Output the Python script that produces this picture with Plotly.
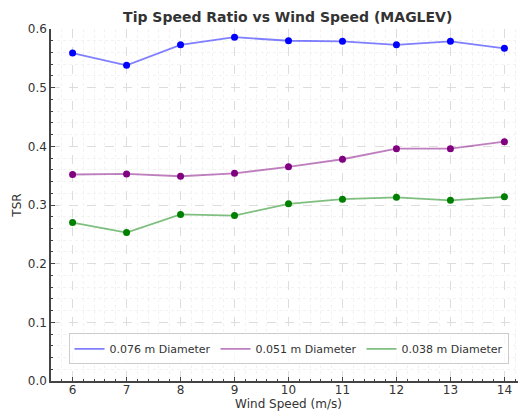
import plotly.graph_objects as go

wind_speed = [6, 7, 8, 9, 10, 11, 12, 13, 14]
tsr_076 = [0.559, 0.538, 0.573, 0.586, 0.580, 0.579, 0.573, 0.579, 0.567]
tsr_051 = [0.352, 0.353, 0.349, 0.354, 0.365, 0.378, 0.396, 0.396, 0.408]
tsr_038 = [0.270, 0.253, 0.284, 0.282, 0.302, 0.310, 0.313, 0.308, 0.314]

series = [
    ("0.076 m Diameter", tsr_076, "rgba(0,0,255,0.5)", "#0000ff"),
    ("0.051 m Diameter", tsr_051, "rgba(128,0,128,0.5)", "#800080"),
    ("0.038 m Diameter", tsr_038, "rgba(0,128,0,0.5)", "#008000"),
]

fig = go.Figure()
for name, vals, lc, mc in series:
    fig.add_trace(go.Scatter(x=wind_speed, y=vals, mode="lines", name=name,
                             line=dict(color=lc, width=1.8)))
for name, vals, lc, mc in series:
    fig.add_trace(go.Scatter(x=wind_speed, y=vals, mode="markers", showlegend=False,
                             marker=dict(color=mc, size=7)))

axis_common = dict(
    showline=True, linecolor="#444", linewidth=1.5,
    ticks="inside", ticklen=4, tickcolor="#444",
    showgrid=True, gridcolor="#dddddd", griddash="dash", gridwidth=1,
    zeroline=False, mirror=False, automargin=False,
    tickfont=dict(size=12, color="#333"),
)

fig.update_xaxes(range=[5.6, 14.4], dtick=1, tick0=6, ticklabelstandoff=-3,
                 title=dict(text="Wind Speed (m/s)", font=dict(size=12, color="#333"), standoff=0),
                 minor=dict(dtick=0.2, ticks="inside", ticklen=2, tickcolor="#444",
                            showgrid=True, gridcolor="#f2f2f2", griddash="dot"),
                 **axis_common)
fig.update_yaxes(range=[0, 0.6], dtick=0.1, tickformat=".1f",
                 title=dict(text="TSR", font=dict(size=12, color="#333"), standoff=4),
                 minor=dict(dtick=0.02, ticks="inside", ticklen=2, tickcolor="#444",
                            showgrid=True, gridcolor="#f2f2f2", griddash="dot"),
                 **axis_common)

fig.update_layout(
    width=518, height=404,
    margin=dict(l=43, r=0, t=21, b=31, autoexpand=False),
    paper_bgcolor="white", plot_bgcolor="white",
    font=dict(family="DejaVu Sans", color="#333"),
    title=dict(text="<b>Tip Speed Ratio vs Wind Speed (MAGLEV)</b>", x=0.54, xanchor="center",
               y=0.978, yanchor="middle", font=dict(size=14, color="#333")),
    legend=dict(orientation="h", x=0.5, xanchor="center", y=0.091, yanchor="middle",
                bordercolor="#cccccc", borderwidth=1, bgcolor="rgba(255,255,255,0.8)",
                font=dict(size=11, color="#333"), itemwidth=30,
                entrywidth=101, entrywidthmode="pixels"),
)

fig.write_html("out.html")
